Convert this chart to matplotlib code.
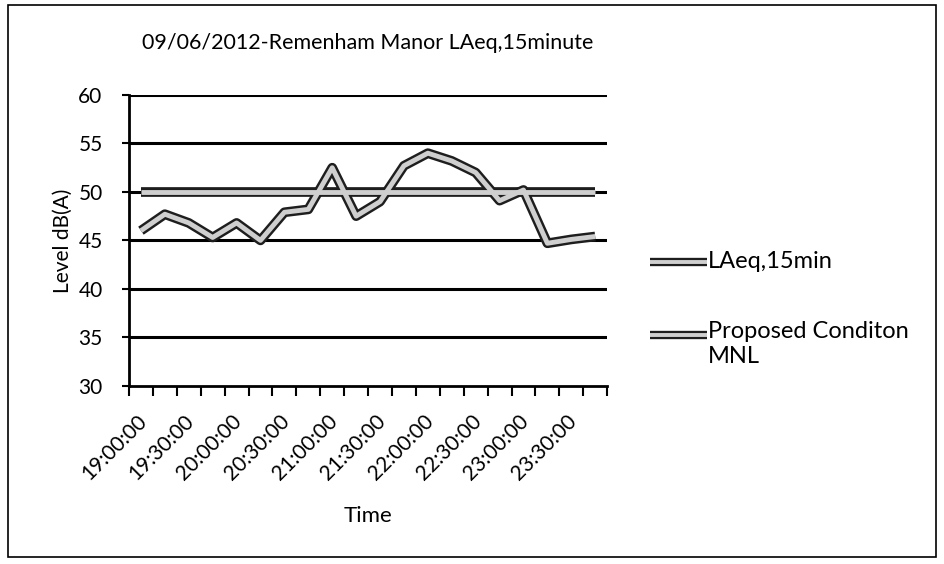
import numpy as np
import matplotlib.pyplot as plt
from matplotlib.patches import Rectangle

plt.rcParams['font.family'] = ['Lato', 'DejaVu Sans']

times = ["19:00:00", "19:15:00", "19:30:00", "19:45:00", "20:00:00", "20:15:00",
         "20:30:00", "20:45:00", "21:00:00", "21:15:00", "21:30:00", "21:45:00",
         "22:00:00", "22:15:00", "22:30:00", "22:45:00", "23:00:00", "23:15:00",
         "23:30:00", "23:45:00"]
laeq = [46.0, 47.7, 46.8, 45.3, 46.8, 45.0, 47.9, 48.2, 52.5, 47.5,
        49.0, 52.7, 54.0, 53.2, 52.0, 49.1, 50.2, 44.7, 45.1, 45.4]
mnl = [50] * len(times)
yticks = [30, 35, 40, 45, 50, 55, 60]
legend_labels = ["LAeq,15min", "Proposed Conditon\nMNL"]

DARK = "#1e1e1e"
LIGHT = "#cfcfcf"

fig = plt.figure(figsize=(9.45, 5.64), dpi=100)
fig.patches.append(Rectangle((0.008, 0.012), 0.982, 0.98, transform=fig.transFigure,
                             fill=False, lw=1.2, ec="black"))

ax = fig.add_axes([0.1365, 0.3161, 0.506, 0.5154])
x = np.arange(len(times))


def fancy_line(xs, ys):
    # printed Excel line: dark outline with a pale core
    ax.plot(xs, ys, color=DARK, lw=7, solid_capstyle="butt", solid_joinstyle="round", zorder=3)
    ax.plot(xs, ys, color=LIGHT, lw=3.5, solid_capstyle="butt", solid_joinstyle="round", zorder=4)


for v in yticks[1:]:
    ax.axhline(v, color="black", lw=2.2, zorder=1)

fancy_line(x, laeq)
fancy_line(x, mnl)

ax.set_xlim(-0.5, len(times) - 0.5)
ax.set_ylim(30, 60)
ax.set_yticks(yticks)
ax.set_yticklabels([str(v) for v in yticks], fontsize=15)
ax.tick_params(axis="y", length=5, width=1.5, pad=14)

ax.set_xticks(np.arange(-0.5, len(times), 1))
ax.set_xticklabels([])
ax.tick_params(axis="x", length=7, width=1.5, direction="out")
for i in range(0, len(times), 2):
    ax.text(i - 0.2, 27.4, times[i], rotation=45, ha="right", va="top",
            rotation_mode="anchor", fontsize=15)

for s in ["top", "right"]:
    ax.spines[s].set_visible(False)
ax.spines["left"].set_linewidth(2)
ax.spines["bottom"].set_linewidth(2)

ax.set_ylabel("Level dB(A)", fontsize=15, labelpad=4)
ax.set_xlabel("Time", fontsize=16, labelpad=76)
ax.set_title("09/06/2012-Remenham Manor LAeq,15minute", fontsize=15.5, pad=33)

# legend
for yy, txt in zip([0.5355, 0.406], legend_labels):
    fig.lines.append(plt.Line2D([0.688, 0.748], [yy, yy], transform=fig.transFigure,
                                color=DARK, lw=6, solid_capstyle="butt"))
    fig.lines.append(plt.Line2D([0.688, 0.748], [yy, yy], transform=fig.transFigure,
                                color=LIGHT, lw=2.8, solid_capstyle="butt"))
    if "\n" in txt:
        fig.text(0.749, yy + 0.025, txt, fontsize=17, va="top", linespacing=1.25)
    else:
        fig.text(0.749, yy, txt, fontsize=17, va="center")

fig.savefig("out.png", dpi=100)
